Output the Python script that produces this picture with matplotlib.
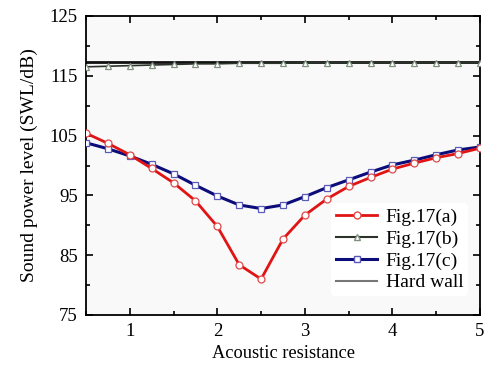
import matplotlib
matplotlib.use("Agg")
import matplotlib.pyplot as plt
from matplotlib.lines import Line2D
from matplotlib.ticker import MultipleLocator

plt.rcParams['font.family'] = ['Liberation Serif', 'DejaVu Serif']

# data
resistance = [0.5, 0.75, 1.0, 1.25, 1.5, 1.75, 2.0, 2.25, 2.5, 2.75,
              3.0, 3.25, 3.5, 3.75, 4.0, 4.25, 4.5, 4.75, 5.0]
swl_a = [105.4, 103.7, 101.8, 99.5, 97.1, 94.1, 89.8, 83.4, 81.0, 87.7,
         91.7, 94.4, 96.5, 98.0, 99.4, 100.4, 101.3, 102.0, 102.9]
swl_b = [116.5, 116.6, 116.7, 116.8, 116.9, 117.0, 117.0, 117.1, 117.1, 117.1,
         117.2, 117.2, 117.2, 117.2, 117.2, 117.2, 117.2, 117.2, 117.2]
swl_c = [103.8, 102.8, 101.6, 100.2, 98.6, 96.7, 94.9, 93.4, 92.8, 93.4,
         94.8, 96.3, 97.6, 98.9, 100.1, 100.9, 101.8, 102.6, 103.1]
hard_wall = 117.3

labels = ['Fig.17(a)', 'Fig.17(b)', 'Fig.17(c)', 'Hard wall']

fig = plt.figure(figsize=(4.84, 3.67), dpi=100)
ax = fig.add_axes([86 / 484, 1 - 315 / 367, 394 / 484, 299 / 367])
ax.set_facecolor('#f9f9f9')

ax.axhline(hard_wall, color='#111111', lw=2.0, zorder=2)
ax.plot(resistance, swl_b, color='#2b332b', lw=1.2, marker='^', ms=4.5,
        mfc='white', mec='#7f907f', mew=0.9, zorder=3)
ax.plot(resistance, swl_c, color='#0c0c7a', lw=2.2, marker='s', ms=4.5,
        mfc='white', mec='#5a5ab8', mew=0.9, zorder=4)
ax.plot(resistance, swl_a, color='#e01414', lw=2.0, marker='o', ms=5,
        mfc='white', mec='#e04a4a', mew=0.9, zorder=5)

ax.set_xlim(0.5, 5)
ax.set_ylim(75, 125)
ax.xaxis.set_major_locator(MultipleLocator(1))
ax.xaxis.set_minor_locator(MultipleLocator(0.5))
ax.yaxis.set_major_locator(MultipleLocator(10))
ax.yaxis.set_minor_locator(MultipleLocator(5))
ax.set_yticks([75, 85, 95, 105, 115, 125])
ax.tick_params(which='both', direction='in', top=True, right=True,
               labelsize=13.5, width=1.2)
ax.tick_params(which='major', length=5, pad=6)
ax.tick_params(which='minor', length=3)
for sp in ax.spines.values():
    sp.set_linewidth(1.3)

ax.set_xlabel('Acoustic resistance', fontsize=13.2, labelpad=3)
ax.set_ylabel('Sound power level (SWL/dB)', fontsize=14, labelpad=8)

handles = [
    Line2D([], [], color='#e01414', lw=2.0, marker='o', ms=5, mfc='white', mec='#e04a4a'),
    Line2D([], [], color='#2b332b', lw=1.5, marker='^', ms=4.5, mfc='white', mec='#7f907f'),
    Line2D([], [], color='#0c0c7a', lw=2.2, marker='s', ms=4.5, mfc='white', mec='#5a5ab8'),
    Line2D([], [], color='#777777', lw=1.5),
]
ax.legend(handles, labels, loc='lower right', bbox_to_anchor=(0.995, 0.03),
          frameon=True, facecolor='white', edgecolor='none', framealpha=1,
          fontsize=14, handlelength=2.1, handletextpad=0.45,
          labelspacing=0.22, borderpad=0.25)

fig.savefig('out.png', dpi=100)
